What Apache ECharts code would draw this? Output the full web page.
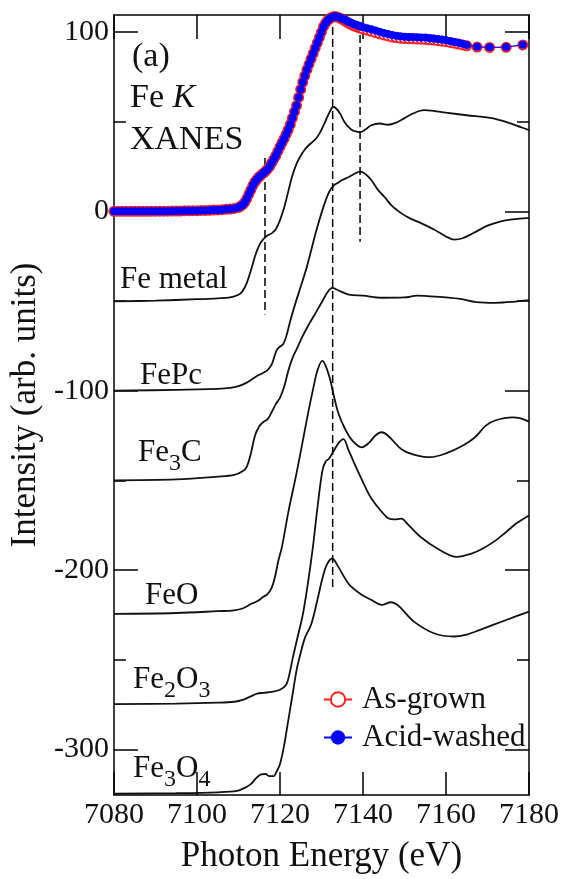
<!DOCTYPE html>
<html>
<head>
<meta charset="utf-8">
<script src="https://cdn.jsdelivr.net/npm/echarts@6/dist/echarts.min.js"></script>
<style>
html,body{margin:0;padding:0;background:#fff;}
#chart{width:562px;height:879px;}
</style>
</head>
<body>
<div id="chart"></div>
<script>
// ---------------- DATA ----------------
var xTicks = [7080, 7100, 7120, 7140, 7160, 7180];
var yMajorTicks = [-300, -200, -100, 0, 100];
var yMinorTicks = [-250, -150, -50, 50];

// energies of the measured (dotted) spectra
var dotEnergy = [
  7080,7081,7082,7083,7084,7085,7086,7087,7088,7089,7090,7091,7092,7093,7094,7095,
  7096,7097,7098,7099,7100,7101,7102,7103,7104,7105,7106,7107,7108,7109,7110,
  7110.5,7111,7111.5,7112,7112.5,7113,7113.5,7114,7114.5,7115,
  7115.5,7116,7116.5,7117,7117.5,7118,7118.5,7119,7119.5,7120,
  7120.5,7121,7121.5,7122,7122.5,7123,7123.5,7124,7124.5,7125,
  7125.5,7126,7126.5,7127,7127.5,7128,7128.5,7129,7129.5,7130,
  7130.5,7131,7131.5,7132,7132.5,7133,7133.5,7134,7134.5,7135,
  7135.5,7136,7136.5,7137,7137.5,7138,7138.5,7139,7139.5,7140,
  7141,7142,7143,7144,7145,7146,7147,7148,7149,7150,7151,7152,7153,7154,7155,
  7156,7157,7158,7159,7160,7161,7162,7163,7164,7165,
  7167.5,7170.5,7174.5,7178.5
];
var acidWashed = [
  0,0,0,0,0,0,0,0,0,0,0.1,0.1,0.1,0.1,0.2,0.2,
  0.2,0.3,0.3,0.4,0.4,0.5,0.5,0.6,0.7,0.8,0.9,1.1,1.3,1.6,2.2,
  2.8,3.6,5,7,9.5,12,14.5,16.5,18,19.3,
  20.3,21.3,22.3,23.5,25,27,29,31,33.5,36,
  38.3,40.5,43,45.5,48.5,52,55.5,59,63.5,68,
  72,75.5,79,82,85,88,91,94,97,100,
  103,105,106.5,107.5,108.3,108.6,108.6,108.4,108,107.5,
  107,106.4,105.8,105.3,104.8,104.3,103.9,103.5,103.1,102.7,
  102.1,101.5,100.8,100.1,99.5,98.9,98.3,97.9,97.6,97.4,97.3,97.2,97.1,97,96.9,
  96.7,96.4,96.1,95.8,95.4,95,94.5,94,93.4,92.8,
  91.8,91.5,91.6,92.9
];
var asGrown = [
  0,0,0,0,0,0,0,0,0,0,0.1,0.1,0.1,0.1,0.2,0.2,
  0.2,0.3,0.3,0.4,0.4,0.5,0.5,0.6,0.7,0.8,0.9,1.1,1.3,1.6,2.2,
  2.8,3.6,5,7,9.5,12,14.5,16.5,18,19.3,
  20.3,21.3,22.3,23.5,25,27,29,31,33.5,36,
  38.3,40.5,43,45.5,48.5,52,55.5,59,63.5,68,
  72,75.5,79,82,85,88,91,94,97,100,
  103,105,106.5,107.5,108.3,108.6,108.5,108.2,107.7,107.1,
  106.5,105.7,105,104.4,103.8,103.3,102.9,102.5,102.1,101.7,
  101.1,100.4,99.7,99,98.4,97.8,97.3,96.9,96.6,96.4,96.3,96.2,96.1,96,95.9,
  95.7,95.5,95.2,94.9,94.6,94.2,93.8,93.3,92.8,92.3,
  91.6,91.4,91.5,92.8
];

// reference spectra [energy, intensity]
var feMetal = [[7080,-50.2],[7090,-49.8],[7100,-49],[7105,-48.5],[7108,-48],[7110,-46.5],[7111,-44.5],[7112,-40],[7113,-33],[7114,-25],[7115,-19],[7116,-15.5],[7117,-13.5],[7118,-12.3],[7119,-10],[7120,-5],[7121,2],[7122,11],[7123,20],[7124,26.5],[7125,31],[7126,34.5],[7127,37],[7128,39],[7129,41.5],[7130,45.5],[7131,50.5],[7132,55.5],[7132.8,58.2],[7133.5,57.5],[7134.5,54.5],[7135.5,50],[7137,46],[7138,44.7],[7139.3,44.2],[7140.5,45.5],[7142,48],[7144,49],[7146,48.3],[7148,49.5],[7150,52],[7152,54.5],[7154.7,56.4],[7157,56],[7160,55],[7165,53.6],[7171,52],[7175,49.5],[7178,47],[7180,45.3]];
var fePc = [[7080,-100],[7095,-99.6],[7105,-99],[7108,-98.5],[7110,-97.5],[7112,-95.5],[7114,-92.5],[7116,-90],[7117,-88.5],[7118,-85.5],[7118.8,-80],[7119.3,-77],[7120,-75.5],[7120.8,-74],[7121.5,-70],[7122.5,-61],[7123.5,-53],[7125,-42],[7126.3,-32.5],[7127.5,-22],[7128.6,-12.1],[7130,-1],[7131,6],[7132,11.5],[7133,14.5],[7134,16],[7135,17.5],[7136.5,19],[7138,21],[7139.3,22.1],[7140.5,21],[7142,17.5],[7143.6,12],[7145.2,8],[7147,3],[7149.2,-1],[7151,-3.5],[7154,-6.6],[7157,-10],[7160,-14],[7162,-15.8],[7164,-15],[7166.6,-12.1],[7170,-8],[7173,-5.7],[7176,-4.5],[7180,-3.6]];
var fe3C = [[7080,-150],[7095,-149.5],[7105,-148],[7109,-147],[7111,-145],[7112,-142.5],[7113,-135],[7114,-125],[7115,-120],[7116,-117.5],[7117,-116],[7118,-112],[7119,-107.5],[7120,-104],[7121,-98],[7122,-89],[7123,-82],[7124,-77],[7125.5,-69.5],[7127,-63],[7128.6,-56.6],[7130,-51],[7131.5,-45],[7132.6,-42.7],[7134,-44],[7136.6,-46.4],[7140,-47],[7144.5,-48.2],[7150,-48],[7153,-47],[7155.5,-47.3],[7160,-48],[7163.4,-48.8],[7167.3,-50.6],[7172,-51],[7176,-50.5],[7180,-49.5]];
var feO = [[7080,-224.5],[7095,-224],[7105,-223],[7109,-222.5],[7111,-221.5],[7113,-219],[7114.5,-217.5],[7116,-215],[7117,-213.5],[7118,-210],[7118.8,-204],[7119.6,-195],[7120.5,-187],[7122,-168],[7124,-146],[7126,-122],[7127,-110],[7128,-99],[7129,-89],[7130.2,-83.4],[7131,-86],[7132,-93],[7133,-103],[7134,-112],[7135.7,-121.4],[7137.5,-128],[7139.7,-131.6],[7141.5,-129],[7143,-125],[7144.5,-123.2],[7146,-125],[7149.2,-132.5],[7152,-135.5],[7156.2,-137.1],[7160,-135],[7164.1,-130.6],[7167,-126],[7169.6,-119.5],[7172,-116.5],[7176,-114.9],[7178,-115.5],[7180,-117.3]];
var fe2O3 = [[7080,-274.8],[7095,-274.5],[7105,-274],[7109,-273.5],[7111,-272.5],[7113,-270.5],[7114.5,-269],[7116,-268.5],[7118,-268],[7120,-266.8],[7121.5,-264],[7122.3,-258],[7123.1,-249],[7124.3,-237],[7125.5,-225],[7126.7,-208],[7127.9,-188],[7129,-166],[7130.2,-145],[7131,-139.5],[7131.8,-138],[7133,-133.4],[7134.2,-129],[7135.3,-127],[7136.5,-133],[7138,-141],[7140,-151],[7142,-160],[7144.5,-167.5],[7146,-171],[7147.5,-171.8],[7149.2,-171.4],[7151,-175],[7153.9,-181.6],[7157.9,-188],[7162.6,-192.7],[7166,-191],[7168.9,-188],[7172,-183.5],[7174.5,-178.8],[7177,-174],[7180,-169.6]];
var fe3O4 = [[7080,-324.8],[7095,-324.5],[7105,-324],[7109.7,-323.2],[7111.5,-321.5],[7112.9,-319.6],[7114.4,-315.8],[7115.5,-314],[7116.5,-313.8],[7117.5,-315],[7118.4,-315],[7119.3,-312],[7120,-308.4],[7121,-298],[7122,-284],[7123,-270],[7124,-256],[7124.7,-249],[7126,-238],[7127.5,-230.6],[7129,-217],[7130.2,-205],[7131.3,-197],[7132.6,-193.6],[7134,-198],[7135.5,-204],[7136.8,-208.4],[7139.5,-213.5],[7142.1,-216.8],[7144.5,-219.5],[7146.8,-218],[7148,-219],[7149.2,-221.4],[7152.3,-228.8],[7157.1,-235.3],[7161.8,-237.1],[7165,-236],[7168.2,-233.4],[7174.5,-227.9],[7180,-223.2]];

// dashed guide lines: [energy, top, bottom]
var guideLines = [[7116.4, 29.7, -57.5], [7132.7, 109.5, -211], [7139.3, 105, -17]];

// ---------------- CHART ----------------
var FONT = '"Liberation Serif", "Times New Roman", serif';
var chart = echarts.init(document.getElementById('chart'));

function pairs(xs, ys) { return xs.map(function (x, i) { return [x, ys[i]]; }); }

var refSpectra = [feMetal, fePc, fe3C, feO, fe2O3, fe3O4];
var series = [];
refSpectra.forEach(function (d) {
  series.push({
    type: 'line', data: d, smooth: 0.35, showSymbol: false, silent: true,
    lineStyle: { color: '#111', width: 1.8 }, z: 2
  });
});
guideLines.forEach(function (g) {
  series.push({
    type: 'line', data: [[g[0], g[1]], [g[0], g[2]]], showSymbol: false, silent: true,
    lineStyle: { color: '#000', width: 1.5, type: [8, 4] }, z: 3
  });
});
series.push({
  name: 'As-grown', type: 'line', data: pairs(dotEnergy, asGrown),
  symbol: 'emptyCircle', symbolSize: 9, showAllSymbol: true,
  itemStyle: { color: '#ff2020', borderWidth: 1 },
  lineStyle: { color: '#ff2020', width: 1 }, z: 4
});
series.push({
  name: 'Acid-washed', type: 'line', data: pairs(dotEnergy, acidWashed),
  symbol: 'circle', symbolSize: 8, showAllSymbol: true,
  itemStyle: { color: '#0000ff' },
  lineStyle: { color: '#0000ff', width: 1 }, z: 5
});

function axisLine(show) {
  return { show: show, onZero: false, lineStyle: { color: '#000', width: 1.5 } };
}
var yMin = -325.5, yMax = 109.5;

function yAx(pos, ticks, len, showLine, labels, extra) {
  var a = {
    type: 'value', min: yMin, max: yMax, position: pos,
    axisLine: axisLine(showLine),
    axisTick: { show: true, inside: true, length: len, customValues: ticks,
                lineStyle: { color: '#000', width: 1.5 } },
    axisLabel: labels ? { show: true, customValues: yMajorTicks, fontSize: 30, fontFamily: FONT,
                          color: '#111', margin: 5, formatter: function (v) { return String(v); } }
                      : { show: false },
    splitLine: { show: false }
  };
  if (extra) for (var k in extra) a[k] = extra[k];
  return a;
}

var graphicTexts = [
  { x: 132, y: 67, text: '(a)', size: 34 },
  { x: 130, y: 108, text: '{n|Fe }{i|K}', size: 34 },
  { x: 130, y: 150, text: 'XANES', size: 34 },
  { x: 120, y: 289, text: 'Fe metal', size: 31 },
  { x: 140, y: 385, text: 'FePc', size: 31 },
  { x: 138, y: 462, text: '{n|Fe}{s|3}{n|C}', size: 31 },
  { x: 145, y: 605, text: 'FeO', size: 31 },
  { x: 133, y: 689, text: '{n|Fe}{s|2}{n|O}{s|3}', size: 31 },
  { x: 133, y: 778, text: '{n|Fe}{s|3}{n|O}{s|4}', size: 31 }
];

var graphic = graphicTexts.map(function (t) {
  var txt = t.text.indexOf('{') === 0 ? t.text : '{n|' + t.text + '}';
  return {
    type: 'text', x: t.x, y: t.y - 0.3 * t.size, z: 10, silent: true,
    style: {
      text: txt, fill: '#111', verticalAlign: 'middle', align: 'left',
      fontSize: t.size, fontFamily: FONT,
      rich: {
        n: { fontSize: t.size, fontFamily: FONT, lineHeight: 40, fill: '#111' },
        i: { fontSize: t.size, fontFamily: FONT, fontStyle: 'italic', lineHeight: 40, fill: '#111' },
        s: { fontSize: Math.round(t.size * 0.78), fontFamily: FONT, lineHeight: 40, padding: [23, 0, 0, 0], fill: '#111' }
      }
    }
  };
});

chart.setOption({
  animation: false,
  backgroundColor: '#fff',
  grid: { left: 108, right: 32, top: 15, bottom: 82, containLabel: false },
  legend: {
    data: ['As-grown', 'Acid-washed'], orient: 'vertical', left: 318, top: 679,
    itemWidth: 28, itemHeight: 18, itemGap: 7,
    textStyle: { fontSize: 31, fontFamily: FONT, color: '#111', padding: [0, 0, 0, 5] }
  },
  xAxis: [
    { type: 'value', min: 7080, max: 7180, interval: 20, position: 'bottom',
      axisLine: axisLine(true),
      axisTick: { inside: true, length: 23, customValues: xTicks, lineStyle: { color: '#000', width: 1.5 } },
      axisLabel: { fontSize: 30, fontFamily: FONT, color: '#111', margin: 5, customValues: xTicks,
                   formatter: function (v) { return String(v); } },
      splitLine: { show: false },
      name: 'Photon Energy (eV)', nameLocation: 'middle', nameGap: 44,
      nameTextStyle: { fontSize: 35, fontFamily: FONT, color: '#111' } },
    { type: 'value', min: 7080, max: 7180, interval: 20, position: 'top',
      axisLine: axisLine(true),
      axisTick: { inside: true, length: 24, customValues: xTicks, lineStyle: { color: '#000', width: 1.5 } },
      axisLabel: { show: false }, splitLine: { show: false } }
  ],
  yAxis: [
    yAx('left', yMajorTicks, 24, true, true, {
      name: 'Intensity (arb. units)', nameLocation: 'middle', nameGap: 62, nameRotate: 90,
      nameTextStyle: { fontSize: 35, fontFamily: FONT, color: '#111' } }),
    yAx('left', yMinorTicks, 12, false, false),
    yAx('right', yMajorTicks, 24, true, false),
    yAx('right', yMinorTicks, 12, false, false)
  ],
  series: series,
  graphic: graphic
});
</script>
</body>
</html>
